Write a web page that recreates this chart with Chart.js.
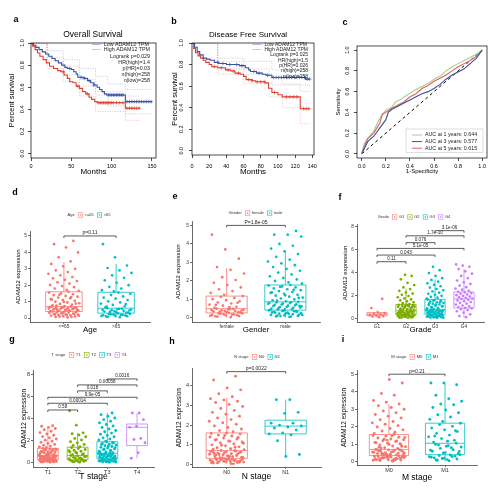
<!DOCTYPE html>
<html>
<head>
<meta charset="utf-8">
<script src="https://cdn.jsdelivr.net/npm/chart.js@4.4.1/dist/chart.umd.min.js"></script>
<style>
  body { margin: 0; background: #fff; }
  #fig { position: relative; width: 496px; height: 500px; overflow: hidden; background: #fff; }
  #fig canvas { position: absolute; }
</style>
</head>
<body>
<div id="fig">
  <canvas id="pa" width="165" height="180" style="left:0;top:0"></canvas>
  <canvas id="pb" width="165" height="180" style="left:165px;top:0"></canvas>
  <canvas id="pc" width="166" height="180" style="left:330px;top:0"></canvas>
  <canvas id="pd" width="165" height="158" style="left:0;top:180px"></canvas>
  <canvas id="pe" width="165" height="158" style="left:165px;top:180px"></canvas>
  <canvas id="pf" width="166" height="158" style="left:330px;top:180px"></canvas>
  <canvas id="pg" width="165" height="165" style="left:0;top:335px"></canvas>
  <canvas id="ph" width="165" height="165" style="left:165px;top:335px"></canvas>
  <canvas id="pi" width="166" height="165" style="left:330px;top:335px"></canvas>
</div>
<script>
// ---- a: overall survival, [months, fraction]
const osLow = [[0,1],[3,0.98],[6,0.96],[10,0.94],[14,0.92],[18,0.9],[22,0.88],[26,0.86],[30,0.84],[34,0.82],[38,0.8],[42,0.78],[45,0.77],[50,0.76],[53,0.74],[56,0.72],[58,0.69],[66,0.68],[70,0.66],[74,0.64],[78,0.62],[82,0.6],[85,0.58],[88,0.56],[91,0.54],[94,0.53],[117,0.47],[150,0.47]];
const osHigh = [[0,1],[2,0.97],[5,0.94],[8,0.91],[11,0.88],[15,0.85],[19,0.82],[23,0.79],[28,0.77],[33,0.75],[37,0.74],[41,0.71],[45,0.68],[48,0.65],[52,0.64],[56,0.61],[60,0.59],[64,0.56],[68,0.54],[72,0.51],[75,0.49],[79,0.47],[82,0.46],[117,0.41],[135,0.41]];
const osLowUp = [[0,1],[20,0.93],[40,0.85],[60,0.77],[80,0.7],[95,0.63],[117,0.58],[150,0.58]];
const osLowLo = [[0,1],[20,0.84],[40,0.71],[60,0.61],[80,0.53],[95,0.43],[117,0.36],[150,0.36]];
const osHighUp = [[0,1],[20,0.87],[40,0.79],[60,0.67],[80,0.56],[117,0.52],[135,0.52]];
const osHighLo = [[0,1],[20,0.77],[40,0.65],[60,0.52],[80,0.38],[117,0.3],[135,0.3]];
const osLowCens = [48,62,66,72,78,96,98,100,102,104,106,108,110,112,114,119,122,125,128,131,134,137,140,143,146,149];
const osHighCens = [40,58,70,84,86,88,90,92,94,96,98,100,102,106,110,114,119,122,125,128,131,134];
const osText = ['Low ADAM12 TPM', 'High ADAM12 TPM', 'Logrank p=0.029', 'HR(high)=1.4', 'p(HR)=0.03', 'n(high)=258', 'n(low)=258'];

// ---- b: disease free survival
const dfsLow = [[0,1],[3,0.96],[6,0.92],[9,0.89],[13,0.86],[17,0.85],[21,0.84],[26,0.82],[31,0.81],[40,0.8],[55,0.79],[62,0.77],[66,0.75],[68,0.735],[75,0.72],[82,0.71],[86,0.7],[93,0.68],[132,0.665],[137,0.665]];
const dfsHigh = [[0,1],[2,0.95],[4,0.91],[7,0.88],[10,0.86],[13,0.84],[16,0.82],[20,0.8],[23,0.78],[30,0.77],[39,0.75],[45,0.74],[50,0.72],[56,0.71],[60,0.69],[63,0.66],[70,0.65],[74,0.64],[85,0.63],[89,0.58],[93,0.54],[100,0.52],[105,0.5],[126,0.39],[137,0.39]];
const dfsLowUp = [[0,1],[30,0.86],[60,0.83],[93,0.75],[137,0.74]];
const dfsLowLo = [[0,1],[30,0.76],[60,0.71],[93,0.61],[137,0.59]];
const dfsHighUp = [[0,1],[30,0.83],[60,0.76],[90,0.68],[105,0.62],[126,0.55],[137,0.55]];
const dfsHighLo = [[0,1],[30,0.71],[60,0.62],[90,0.5],[105,0.4],[126,0.25],[137,0.25]];
const dfsLowCens = [30,36,44,52,58,72,78,88,95,98,101,104,107,110,113,116,119,122,125,128,131,134,137];
const dfsHighCens = [26,34,42,48,54,66,70,76,80,84,96,110,114,118,122,130,133,136];
const dfsText = ['Low ADAM12 TPM', 'High ADAM12 TPM', 'Logrank p=0.025', 'HR(high)=1.5', 'p(HR)=0.026', 'n(high)=258', 'n(low)=258'];

// ---- c: time dependent ROC, [1-specificity, sensitivity]
const roc1 = [[0,0],[0.02,0.1],[0.05,0.15],[0.1,0.22],[0.13,0.3],[0.17,0.38],[0.2,0.42],[0.25,0.45],[0.28,0.5],[0.33,0.53],[0.38,0.57],[0.45,0.62],[0.5,0.65],[0.55,0.68],[0.6,0.72],[0.65,0.75],[0.7,0.8],[0.75,0.84],[0.8,0.87],[0.85,0.9],[0.9,0.93],[0.95,0.96],[1,1]];
const roc3 = [[0,0],[0.02,0.05],[0.05,0.12],[0.1,0.17],[0.15,0.25],[0.2,0.33],[0.22,0.4],[0.25,0.43],[0.3,0.46],[0.35,0.49],[0.4,0.52],[0.45,0.55],[0.5,0.58],[0.55,0.6],[0.6,0.63],[0.65,0.67],[0.7,0.72],[0.75,0.76],[0.8,0.79],[0.85,0.82],[0.9,0.87],[0.95,0.92],[1,1]];
const roc5 = [[0,0],[0.02,0.07],[0.05,0.15],[0.1,0.2],[0.15,0.3],[0.17,0.38],[0.2,0.4],[0.25,0.44],[0.3,0.47],[0.35,0.5],[0.4,0.55],[0.45,0.58],[0.5,0.63],[0.55,0.66],[0.6,0.7],[0.65,0.73],[0.7,0.76],[0.75,0.8],[0.8,0.84],[0.85,0.87],[0.9,0.9],[0.95,0.94],[1,1]];
const rocLabels = ['AUC at 1 years: 0.644', 'AUC at 3 years: 0.577', 'AUC at 5 years: 0.615'];

// ---- d..i: ADAM12 expression by clinical group; box stats are [lo, q1, median, q3, hi]
const ageCats = ['<=65', '>65'];
const ageLe65 = [0.04,0.07,0.1,0.12,0.15,0.17,0.19,0.21,0.23,0.25,0.27,0.29,0.31,0.33,0.35,0.37,0.38,0.4,0.06,0.09,0.14,0.18,0.22,0.26,0.3,
  0.42,0.44,0.46,0.48,0.5,0.52,0.54,0.56,0.58,0.6,0.62,0.64,0.66,0.68,0.7,0.43,0.47,0.51,0.55,0.59,0.63,0.67,0.45,0.53,0.61,
  0.73,0.78,0.82,0.86,0.9,0.95,1.0,1.05,1.1,1.15,1.2,1.25,1.3,1.35,1.4,1.45,1.5,1.55,1.6,0.76,0.88,0.98,1.12,1.28,1.42,
  1.65,1.72,1.8,1.88,1.95,2.02,2.1,2.18,2.25,2.33,2.42,2.5,2.6,2.7,2.8,2.9,3.0,3.15,3.3,3.45,3.7,4.0,4.3,4.5,4.7];
const ageGt65 = [0.05,0.08,0.11,0.14,0.17,0.2,0.23,0.26,0.29,0.1,0.16,0.22,0.13,0.19,0.25,
  0.32,0.36,0.4,0.44,0.48,0.52,0.56,0.6,0.34,0.42,0.5,0.58,0.38,0.46,0.54,
  0.65,0.72,0.8,0.88,0.95,1.02,1.1,1.18,1.25,1.32,1.4,1.48,1.55,0.7,0.85,
  1.62,1.7,1.8,1.9,2.0,2.15,2.3,2.45,2.6,2.75,2.9,3.05,3.2,3.7,4.5];
const ageBox = [[0.02,0.4,0.7,1.6,3.4],[0.02,0.3,0.6,1.57,3.3]];

const genderCats = ['female', 'male'];
const female = [0.04,0.07,0.1,0.13,0.16,0.19,0.22,0.25,0.27,0.09,0.15,0.2,0.12,0.18,0.24,
  0.29,0.32,0.35,0.38,0.41,0.44,0.47,0.5,0.31,0.37,0.43,0.49,0.34,0.4,0.46,
  0.55,0.6,0.66,0.72,0.78,0.84,0.9,0.96,1.02,1.08,1.14,1.18,0.58,0.7,0.82,
  1.25,1.35,1.45,1.55,1.65,1.78,1.9,2.05,2.2,2.4,2.6,2.75,3.2,3.7,4.5];
const male = [0.05,0.08,0.11,0.14,0.17,0.2,0.23,0.26,0.29,0.32,0.35,0.38,0.41,0.07,0.12,0.18,0.24,0.3,0.36,0.1,0.16,0.22,0.28,0.34,0.4,
  0.44,0.48,0.52,0.56,0.6,0.64,0.68,0.72,0.76,0.8,0.84,0.87,0.46,0.5,0.54,0.58,0.62,0.66,0.7,0.74,0.78,0.82,0.86,0.45,0.65,
  0.9,0.95,1.0,1.05,1.1,1.15,1.2,1.25,1.3,1.35,1.4,1.45,1.5,1.55,1.6,1.65,1.7,1.75,1.78,0.93,1.08,1.22,1.38,1.52,1.68,
  1.85,1.92,2.0,2.08,2.16,2.25,2.35,2.45,2.55,2.65,2.75,2.85,2.95,3.05,3.15,3.3,3.45,3.6,3.75,3.9,4.0,4.4,4.5,4.5,4.7];
const genderBox = [[0.02,0.27,0.5,1.18,2.7],[0.02,0.42,0.87,1.78,3.6]];

const gradeCats = ['G1', 'G2', 'G3', 'G4'];
const g1 = [0.1,0.15,0.2,0.25,0.3,0.35,0.4,0.45,0.5,0.9,1.7];
const g2 = [0.04,0.07,0.1,0.13,0.16,0.19,0.22,0.25,0.28,0.3,0.09,0.15,0.21,0.27,0.12,0.18,0.24,0.06,0.2,0.26,
  0.33,0.36,0.39,0.42,0.45,0.48,0.51,0.54,0.57,0.6,0.63,0.65,0.35,0.41,0.47,0.53,0.59,0.38,0.5,0.62,
  0.7,0.75,0.8,0.85,0.9,0.95,1.0,1.05,1.1,1.15,1.2,0.72,0.82,0.92,1.02,1.12,0.78,0.98,1.08,1.18,
  1.25,1.32,1.4,1.48,1.56,1.65,1.74,1.84,1.95,2.05,2.15,2.25,2.4,2.55,2.7,2.9,3.1,3.4,3.7,3.8];
const g3 = [0.04,0.07,0.1,0.13,0.16,0.19,0.22,0.25,0.28,0.31,0.34,0.09,0.15,0.21,0.27,0.33,0.12,0.18,0.24,0.3,0.06,0.2,
  0.37,0.4,0.43,0.46,0.49,0.52,0.55,0.58,0.61,0.64,0.67,0.7,0.73,0.75,0.39,0.45,0.51,0.57,0.63,0.69,0.42,0.54,0.66,
  0.8,0.86,0.92,0.98,1.04,1.1,1.16,1.22,1.28,1.34,1.4,1.46,1.52,1.58,1.64,0.83,0.95,1.07,1.19,1.31,1.43,1.55,
  1.72,1.8,1.88,1.96,2.05,2.14,2.24,2.34,2.45,2.56,2.68,2.8,2.92,3.05,3.2,3.35,3.5,3.7,3.95,4.2,4.5];
const g4 = [0.1,0.2,0.35,0.5,0.62,0.72,0.8,0.88,0.92,0.98,1.05,1.12,1.2,1.28,1.35,1.42,1.5,1.56,1.62,1.68,1.72,1.78,1.84,1.9,
  1.96,2.02,2.08,2.14,2.2,2.26,2.32,2.4,2.5,2.6,2.72,2.85,3.0,3.15,3.3,3.5,3.7,3.9,4.1,4.3,4.5,4.6,4.7];
const gradeBox = [[0.1,0.22,0.35,0.5,0.7],[0.02,0.3,0.65,1.2,2.6],[0.02,0.35,0.75,1.65,3.4],[0.05,0.9,1.7,2.3,4.3]];
const gradeP = [[0,1,4.94,'0.11'],[0,2,5.52,'0.043'],[0,3,6.1,'5.1e-05'],[1,2,6.6,'0.076'],[1,3,7.2,'1.7e-10'],[2,3,7.65,'3.1e-06']];

const tCats = ['T1', 'T2', 'T3', 'T4'];
const t1 = [0.04,0.07,0.1,0.13,0.16,0.19,0.22,0.25,0.28,0.3,0.09,0.15,0.21,0.27,0.12,0.18,0.24,0.06,0.2,0.26,0.11,0.17,
  0.33,0.36,0.39,0.42,0.45,0.48,0.51,0.54,0.57,0.6,0.63,0.65,0.35,0.41,0.47,0.53,0.59,0.38,0.5,0.62,0.44,0.56,
  0.7,0.75,0.8,0.85,0.9,0.95,1.0,1.05,1.1,1.15,1.2,1.25,1.3,0.72,0.82,0.92,1.02,1.12,1.22,0.78,0.98,1.18,
  1.36,1.42,1.5,1.58,1.66,1.75,1.84,1.94,2.04,2.14,2.25,2.36,2.48,2.6,2.72,2.85,2.98,3.1,3.2,3.3,3.35];
const t2 = [0.05,0.09,0.13,0.17,0.21,0.25,0.11,0.19,0.07,0.15,0.23,
  0.3,0.36,0.42,0.48,0.54,0.6,0.65,0.33,0.45,0.57,0.39,
  0.72,0.8,0.88,0.96,1.04,1.12,1.2,1.28,1.36,0.76,0.92,1.08,
  1.45,1.55,1.65,1.78,1.9,2.05,2.2,2.35,2.5,2.62,2.7,3.4,4.7];
const t3 = [0.04,0.07,0.1,0.13,0.16,0.19,0.22,0.25,0.28,0.31,0.34,0.09,0.15,0.21,0.27,0.33,0.12,0.18,0.24,0.3,0.06,0.2,
  0.38,0.42,0.46,0.5,0.54,0.58,0.62,0.66,0.7,0.74,0.78,0.82,0.85,0.4,0.48,0.56,0.64,0.72,0.8,0.44,0.6,0.76,
  0.9,0.97,1.04,1.11,1.18,1.25,1.32,1.39,1.46,1.53,1.6,1.67,1.74,1.81,1.88,0.94,1.08,1.22,1.36,1.5,1.64,1.78,
  1.95,2.05,2.15,2.25,2.35,2.46,2.57,2.68,2.8,2.92,3.05,3.18,3.32,3.46,3.6,3.75,3.9,4.05,4.2,4.35,4.5];
const t4 = [4.5,4.5,3.9,3.3,3.2,2.2,2.1,1.8,0.9,0.4];
const tBox = [[0.02,0.3,0.65,1.3,3.2],[0.02,0.25,0.65,1.4,2.7],[0.02,0.35,0.85,1.9,4.5],[0.4,1.55,3.2,3.5,4.5]];
const tP = [[0,1,4.77,'0.58'],[0,2,5.38,'0.00014'],[0,3,5.92,'9.9e-05'],[1,2,6.5,'0.018'],[1,3,7.04,'0.00058'],[2,3,7.58,'0.0016']];

const nCats = ['N0', 'N1'];
const n0 = [0.04,0.07,0.1,0.13,0.16,0.19,0.22,0.25,0.28,0.3,0.09,0.15,0.21,0.27,0.12,0.18,0.24,0.06,0.2,0.26,0.11,0.17,0.23,0.14,0.29,0.08,0.02,
  0.33,0.36,0.39,0.42,0.45,0.48,0.51,0.54,0.57,0.6,0.63,0.66,0.69,0.7,0.35,0.41,0.47,0.53,0.59,0.65,0.38,0.5,0.62,0.44,0.56,0.68,0.32,
  0.74,0.79,0.84,0.89,0.94,0.99,1.04,1.09,1.14,1.19,1.24,1.29,1.34,1.39,1.44,1.49,1.54,1.6,0.77,0.87,0.97,1.07,1.17,1.27,1.37,1.47,1.57,
  1.66,1.72,1.8,1.88,1.96,2.04,2.12,2.2,2.28,2.36,2.45,2.55,2.65,2.75,2.85,2.95,3.05,3.15,3.22,3.28,3.35,3.45,3.6,3.8,3.9,4.3,4.5];
const n1 = [3.3,3.3,2.65,2.6,2.1,2.1,2.0,1.95,1.9,1.85,1.75,1.6,1.55,1.5,1.2,0.5,0.4];
const nBox = [[0.02,0.3,0.7,1.6,3.4],[0.4,1.55,1.95,2.25,3.3]];

const mCats = ['M0', 'M1'];
const m0 = [0.03,0.06,0.09,0.12,0.15,0.18,0.21,0.24,0.27,0.3,0.33,0.35,0.08,0.14,0.2,0.26,0.32,0.11,0.17,0.23,0.29,0.05,0.13,0.19,0.25,0.31,0.1,
  0.37,0.4,0.43,0.46,0.49,0.52,0.55,0.58,0.61,0.64,0.67,0.7,0.38,0.44,0.5,0.56,0.62,0.68,0.41,0.53,0.65,0.47,0.59,0.36,0.69,
  0.75,0.8,0.85,0.9,0.95,1.0,1.05,1.1,1.15,1.2,1.25,1.3,1.35,1.4,1.45,1.5,1.55,0.78,0.88,0.98,1.08,1.18,1.28,1.38,1.48,0.83,1.03,1.23,
  1.62,1.68,1.75,1.82,1.9,1.98,2.06,2.14,2.22,2.3,2.4,2.5,2.6,2.7,2.8,2.9,3.0,3.1,3.2,3.3,3.4,3.5,3.8,3.9,4.5,4.7];
const m1 = [0.05,0.1,0.15,0.2,0.25,0.3,0.35,0.4,0.12,0.22,0.32,0.18,0.28,0.38,0.08,
  0.45,0.52,0.6,0.68,0.76,0.84,0.92,1.0,1.05,0.5,0.65,0.8,0.95,0.58,0.88,
  1.12,1.22,1.32,1.42,1.52,1.62,1.72,1.82,1.92,2.02,2.12,2.2,1.17,1.47,1.77,
  2.3,2.42,2.55,2.68,2.8,2.95,3.1,3.25,3.3,3.45,3.6,3.8,4.4,4.5,4.5];
const mBox = [[0.02,0.35,0.7,1.55,3.3],[0.03,0.4,1.05,2.2,4.5]];

// ---- styling
const FONT = "'Liberation Sans', Arial, sans-serif";
const RED = '#F8766D', GREEN = '#7CAE00', TEAL = '#00BFC4', PURPLE = '#C77CFF';
const KM_BLUE = '#3a52a3', KM_RED = '#e0412f', CI_BLUE = '#9fb0d9', CI_RED = '#f2a49c';
const ROC_COLORS = ['#a3d08f', '#3c4f9a', '#e0605a'];

Chart.defaults.font.family = FONT;
Chart.defaults.color = '#000';
Chart.defaults.animation = false;
Chart.defaults.plugins.legend.display = false;
Chart.defaults.plugins.tooltip.enabled = false;

const pts = a => a.map(([x, y]) => ({ x, y }));
const survAt = (curve, t) => curve.filter(p => p[0] <= t).pop()[1];
// spread points sideways around their group centre (golden ratio sequence)
const jitter = (vals, g, spread) => vals.map((v, i) => ({ x: g + (((i + 1) * 0.618034) % 1 - 0.5) * spread, y: v }));

// padding + axis sizes so that the plot area lands where it does in the figure
function frame(W, H, box, yTitleX, yLH, xTitleY, xLH) {
  const [L, T, R, B] = box;
  const pl = yTitleX - yLH / 2;
  const pb = H - xTitleY - xLH / 2;
  return { padding: { left: pl, top: T, right: W - R, bottom: pb }, yW: L - pl, xH: H - pb - B };
}

function decor(letter, lx, ly, title, tx, ty, tfs) {
  return {
    id: 'decor',
    afterDraw(chart) {
      const ctx = chart.ctx;
      ctx.save();
      ctx.fillStyle = '#000';
      ctx.textBaseline = 'middle';
      ctx.textAlign = 'center';
      ctx.font = 'bold 9px ' + FONT;
      ctx.fillText(letter, lx, ly);
      if (title) {
        ctx.font = tfs + 'px ' + FONT;
        ctx.fillText(title, tx, ty);
      }
      ctx.restore();
    }
  };
}

// R style panel: full box and vertical y tick labels
function rFrame(labelX, fs) {
  return {
    id: 'rFrame',
    afterDraw(chart) {
      const { ctx, chartArea: a, scales: { y } } = chart;
      ctx.save();
      ctx.strokeStyle = '#000';
      ctx.lineWidth = 0.7;
      ctx.strokeRect(a.left, a.top, a.right - a.left, a.bottom - a.top);
      ctx.fillStyle = '#000';
      ctx.font = fs + 'px ' + FONT;
      ctx.textAlign = 'center';
      ctx.textBaseline = 'middle';
      y.ticks.forEach(t => {
        ctx.save();
        ctx.translate(labelX, y.getPixelForValue(t.value));
        ctx.rotate(-Math.PI / 2);
        ctx.fillText(t.value.toFixed(1), 0, 0);
        ctx.restore();
      });
      ctx.restore();
    }
  };
}

function survLegend(right, ys, texts, fs) {
  return {
    id: 'survLegend',
    afterDraw(chart) {
      const ctx = chart.ctx;
      ctx.save();
      ctx.font = fs + 'px ' + FONT;
      ctx.textBaseline = 'middle';
      ctx.fillStyle = '#222';
      const w = Math.max(ctx.measureText(texts[0]).width, ctx.measureText(texts[1]).width);
      [CI_BLUE, CI_RED].forEach((c, i) => {
        ctx.strokeStyle = c;
        ctx.lineWidth = 0.8;
        ctx.beginPath();
        ctx.moveTo(right - w - 12, ys[i]);
        ctx.lineTo(right - w - 3, ys[i]);
        ctx.stroke();
        ctx.textAlign = 'left';
        ctx.fillText(texts[i], right - w, ys[i]);
      });
      ctx.textAlign = 'right';
      texts.slice(2).forEach((t, i) => ctx.fillText(t, right, ys[i + 2]));
      ctx.restore();
    }
  };
}

function survChart(id, d) {
  const f = frame(165, 180, d.box, d.yTitleX, 7.5 * 1.2, 172, 8 * 1.2);
  const step = (arr, color, extra) => Object.assign({ data: pts(arr), borderColor: color, borderWidth: 1.1, pointRadius: 0, stepped: true, fill: false }, extra);
  const ci = (arr, color) => step(arr, color, { borderWidth: 0.7, borderDash: [1, 1.5] });
  const cens = (months, curve, color) => ({
    data: months.map(m => ({ x: m, y: survAt(curve, m) })), showLine: false,
    pointStyle: 'cross', pointRadius: 1.8, pointBorderWidth: 0.7, borderColor: color
  });
  const tickGrid = { drawOnChartArea: false, tickLength: 3, color: '#000', lineWidth: 0.7 };
  new Chart(document.getElementById(id), {
    type: 'line',
    data: {
      datasets: [
        cens(d.lowC, d.low, KM_BLUE), cens(d.highC, d.high, KM_RED),
        step(d.low, KM_BLUE), step(d.high, KM_RED),
        ci(d.lowUp, CI_BLUE), ci(d.lowLo, CI_BLUE), ci(d.highUp, CI_RED), ci(d.highLo, CI_RED)
      ]
    },
    options: {
      responsive: false,
      devicePixelRatio: 1,
      layout: { padding: f.padding },
      scales: {
        x: {
          type: 'linear', min: 0, max: d.xMax,
          afterBuildTicks: s => { s.ticks = d.xTicks.map(v => ({ value: v })); },
          afterFit: s => { s.height = f.xH; },
          ticks: { font: { size: 5.5 }, padding: d.xPad, maxRotation: 0, autoSkip: false },
          grid: tickGrid,
          border: { display: false },
          title: { display: true, text: 'Months', font: { size: 8 }, padding: 0 }
        },
        y: {
          min: -0.04, max: 1,
          afterBuildTicks: s => { s.ticks = [0, 0.2, 0.4, 0.6, 0.8, 1].map(v => ({ value: v })); },
          afterFit: s => { s.width = f.yW; },
          ticks: { display: false },
          grid: tickGrid,
          border: { display: false },
          title: { display: true, text: 'Percent survival', font: { size: 7.5 }, padding: 0 }
        }
      }
    },
    plugins: [rFrame(d.yLabelX, 5.5), survLegend(d.legRight, d.legY, d.text, d.legFont), decor(d.letter, d.lx, d.ly, d.title, d.tx, 35, d.tfs)]
  });
}

survChart('pa', {
  low: osLow, high: osHigh, lowUp: osLowUp, lowLo: osLowLo, highUp: osHighUp, highLo: osHighLo,
  lowC: osLowCens, highC: osHighCens, text: osText,
  box: [31, 43, 156, 158], xMax: 155, xTicks: [0, 50, 100, 150], xPad: 2, yTitleX: 12, yLabelX: 22,
  legRight: 150, legY: [44.5, 49.5, 57, 63, 69, 75, 81], legFont: 5.3,
  letter: 'a', lx: 16, ly: 20, title: 'Overall Survival', tx: 93, tfs: 8.5
});
survChart('pb', {
  low: dfsLow, high: dfsHigh, lowUp: dfsLowUp, lowLo: dfsLowLo, highUp: dfsHighUp, highLo: dfsHighLo,
  lowC: dfsLowCens, highC: dfsHighCens, text: dfsText,
  box: [27, 43, 149, 155], xMax: 142, xTicks: [0, 20, 40, 60, 80, 100, 120, 140], xPad: 5, yTitleX: 10, yLabelX: 16.5,
  legRight: 143, legY: [44.5, 49.5, 55, 60.5, 66, 71, 76.5], legFont: 5,
  letter: 'b', lx: 9, ly: 22, title: 'Disease Free Survival', tx: 83, tfs: 8
});

// ---- c: ROC
(function () {
  const f = frame(166, 180, [27, 46, 157, 158], 8, 6 * 1.2, 171, 6 * 1.2);
  const tickGrid = { drawOnChartArea: false, tickLength: 3, color: '#000', lineWidth: 0.7 };
  const rocTicks = [0, 0.2, 0.4, 0.6, 0.8, 1];
  const rocLegend = {
    id: 'rocLegend',
    afterDraw(chart) {
      const ctx = chart.ctx;
      ctx.save();
      ctx.strokeStyle = '#c8c8c8';
      ctx.lineWidth = 0.6;
      ctx.strokeRect(76, 129, 77, 23.5);
      ctx.font = '5.3px ' + FONT;
      ctx.textBaseline = 'middle';
      ctx.textAlign = 'left';
      rocLabels.forEach((t, i) => {
        const y = 135 + i * 6.6;
        ctx.strokeStyle = ROC_COLORS[i];
        ctx.lineWidth = 1;
        ctx.beginPath();
        ctx.moveTo(82, y);
        ctx.lineTo(92, y);
        ctx.stroke();
        ctx.fillStyle = '#222';
        ctx.fillText(t, 95, y);
      });
      ctx.restore();
    }
  };
  const curve = (arr, c) => ({ data: pts(arr), borderColor: c, borderWidth: 1.1, pointRadius: 0, fill: false });
  new Chart(document.getElementById('pc'), {
    type: 'line',
    data: {
      datasets: [
        curve(roc3, ROC_COLORS[1]), curve(roc5, ROC_COLORS[2]), curve(roc1, ROC_COLORS[0]),
        { data: pts([[0, 0], [1, 1]]), borderColor: '#000', borderWidth: 1, borderDash: [3, 3], pointRadius: 0 }
      ]
    },
    options: {
      responsive: false,
      devicePixelRatio: 1,
      layout: { padding: f.padding },
      scales: {
        x: {
          type: 'linear', min: -0.04, max: 1.04,
          afterBuildTicks: s => { s.ticks = rocTicks.map(v => ({ value: v })); },
          afterFit: s => { s.height = f.xH; },
          ticks: { font: { size: 5.5 }, padding: 2, maxRotation: 0, autoSkip: false, callback: v => v.toFixed(1) },
          grid: tickGrid,
          border: { display: false },
          title: { display: true, text: '1-Specificity', font: { size: 6 }, padding: 0 }
        },
        y: {
          min: -0.04, max: 1.04,
          afterBuildTicks: s => { s.ticks = rocTicks.map(v => ({ value: v })); },
          afterFit: s => { s.width = f.yW; },
          ticks: { display: false },
          grid: tickGrid,
          border: { display: false },
          title: { display: true, text: 'Sensitivity', font: { size: 6 }, padding: 0 }
        }
      }
    },
    plugins: [rFrame(17, 5.5), rocLegend, decor('c', 15, 23)]
  });
})();

// ---- box plots with jittered points
function boxes(stats, colors, width) {
  return {
    id: 'boxes',
    beforeDatasetsDraw(chart) {
      const { ctx, scales: { x, y } } = chart;
      const p = v => y.getPixelForValue(v);
      ctx.save();
      ctx.lineWidth = 0.8;
      stats.forEach(([lo, q1, med, q3, hi], i) => {
        const l = x.getPixelForValue(i - width / 2), r = x.getPixelForValue(i + width / 2), m = x.getPixelForValue(i);
        ctx.strokeStyle = colors[i];
        ctx.beginPath();
        ctx.moveTo(m, p(hi)); ctx.lineTo(m, p(q3));
        ctx.moveTo(m, p(q1)); ctx.lineTo(m, p(lo));
        ctx.moveTo(l, p(med)); ctx.lineTo(r, p(med));
        ctx.rect(l, p(q3), r - l, p(q1) - p(q3));
        ctx.stroke();
      });
      ctx.restore();
    }
  };
}

function brackets(items, fs) {
  return {
    id: 'brackets',
    afterDatasetsDraw(chart) {
      const { ctx, scales: { x, y } } = chart;
      ctx.save();
      ctx.strokeStyle = '#333';
      ctx.fillStyle = '#222';
      ctx.lineWidth = 0.8;
      ctx.font = fs + 'px ' + FONT;
      ctx.textAlign = 'center';
      ctx.textBaseline = 'bottom';
      items.forEach(([a, b, v, label]) => {
        const x0 = x.getPixelForValue(a), x1 = x.getPixelForValue(b), yy = y.getPixelForValue(v);
        ctx.beginPath();
        ctx.moveTo(x0, yy + 2); ctx.lineTo(x0, yy); ctx.lineTo(x1, yy); ctx.lineTo(x1, yy + 2);
        ctx.stroke();
        ctx.fillText(label, (x0 + x1) / 2, yy - 0.5);
      });
      ctx.restore();
    }
  };
}

function ggLegend(title, labels, colors, cx, cy, fs) {
  return {
    id: 'ggLegend',
    afterDraw(chart) {
      const ctx = chart.ctx;
      ctx.save();
      ctx.font = fs + 'px ' + FONT;
      ctx.textBaseline = 'middle';
      ctx.textAlign = 'left';
      const k = fs * 1.1, gap = fs * 0.9;
      const tw = ctx.measureText(title).width;
      const ws = labels.map(l => ctx.measureText(l).width);
      const total = tw + ws.reduce((s, w) => s + gap + k + 2 + w, 0);
      let px = cx - total / 2;
      ctx.fillStyle = '#333';
      ctx.fillText(title, px, cy);
      px += tw;
      labels.forEach((l, i) => {
        px += gap;
        ctx.strokeStyle = colors[i];
        ctx.lineWidth = 0.6;
        ctx.strokeRect(px, cy - k / 2, k, k);
        ctx.fillStyle = colors[i];
        ctx.beginPath();
        ctx.arc(px + k / 2, cy, 0.8, 0, 2 * Math.PI);
        ctx.fill();
        px += k + 2;
        ctx.fillStyle = '#333';
        ctx.fillText(l, px, cy);
        px += ws[i];
      });
      ctx.restore();
    }
  };
}

function boxChart(id, c) {
  const f = frame(c.W, c.H, c.box, c.yTitleX, c.yFont * 1.2, c.xTitleY, c.xFont * 1.2);
  const axisGrid = { drawOnChartArea: false, tickLength: 2, color: '#444', lineWidth: 0.8 };
  const axisBorder = { color: '#444', width: 0.8 };
  new Chart(document.getElementById(id), {
    type: 'scatter',
    data: {
      datasets: c.groups.map((vals, i) => ({
        data: jitter(vals, i, 0.6), backgroundColor: c.colors[i], borderWidth: 0, pointRadius: c.r
      }))
    },
    options: {
      responsive: false,
      devicePixelRatio: 1,
      layout: { padding: f.padding },
      scales: {
        x: {
          type: 'linear', min: c.xMin, max: c.xMax,
          afterBuildTicks: s => { s.ticks = c.cats.map((n, i) => ({ value: i })); },
          afterFit: s => { s.height = f.xH; },
          ticks: { callback: v => c.cats[Math.round(v)], font: { size: c.tick }, color: '#333', padding: 0, maxRotation: 0, autoSkip: false },
          grid: axisGrid,
          border: axisBorder,
          title: { display: true, text: c.xTitle, font: { size: c.xFont }, padding: 0 }
        },
        y: {
          min: c.yMin, max: c.yMax,
          afterBuildTicks: s => { s.ticks = c.yTicks.map(v => ({ value: v })); },
          afterFit: s => { s.width = f.yW; },
          ticks: { font: { size: c.tick }, color: '#333', padding: 1 },
          grid: axisGrid,
          border: axisBorder,
          title: { display: true, text: 'ADAM12 expression', font: { size: c.yFont }, padding: 0 }
        }
      }
    },
    plugins: [
      boxes(c.stats, c.colors, 0.7),
      brackets(c.pvals, c.pFont),
      ggLegend(c.legTitle, c.cats, c.colors, c.legX, c.legY, c.legFont),
      decor(c.letter, c.lx, c.ly)
    ]
  });
}

const row2 = { W: 165, H: 158, xTitleY: 150, xFont: 8, yFont: 6, tick: 4.8, r: 1.35, legFont: 4, pFont: 5 };
const row3 = { W: 165, H: 165, xFont: 8.5, yFont: 6.5, tick: 5.5, r: 1.45, legFont: 4.2, pFont: 5 };

boxChart('pd', Object.assign({}, row2, {
  box: [30, 51.7, 150, 142], yTitleX: 18, xTitle: 'Age', cats: ageCats,
  groups: [ageLe65, ageGt65], stats: ageBox, colors: [RED, TEAL],
  xMin: -0.65, xMax: 1.65, yMin: -0.24, yMax: 5.26, yTicks: [0, 1, 2, 3, 4, 5],
  pvals: [[0, 1, 5.0, 'p=0.11']], legTitle: 'Age', legX: 89, legY: 35, letter: 'd', lx: 15, ly: 13
}));
boxChart('pe', Object.assign({}, row2, {
  box: [27, 41.7, 155, 142], yTitleX: 13, xTitle: 'Gender', cats: genderCats,
  groups: [female, male], stats: genderBox, colors: [RED, TEAL],
  xMin: -0.59, xMax: 1.59, yMin: -0.22, yMax: 5.2, yTicks: [0, 1, 2, 3, 4, 5],
  pvals: [[0, 1, 5.0, 'P=1.8e-05']], legTitle: 'Gender', legX: 90.5, legY: 33, letter: 'e', lx: 10, ly: 17
}));
boxChart('pf', Object.assign({}, row2, {
  W: 166, box: [27, 44, 154, 142], yTitleX: 15, xTitle: 'Grade', cats: gradeCats,
  groups: [g1, g2, g3, g4], stats: gradeBox, colors: [RED, GREEN, TEAL, PURPLE],
  xMin: -0.69, xMax: 3.69, yMin: -0.32, yMax: 8.23, yTicks: [0, 2, 4, 6, 8],
  pvals: gradeP, pFont: 4.6, legTitle: 'Grade', legX: 84, legY: 37, letter: 'f', lx: 10, ly: 18
}));
boxChart('pg', Object.assign({}, row3, {
  box: [33, 35, 154, 132], yTitleX: 24, xTitleY: 141.7, xTitle: 'T stage', cats: tCats,
  groups: [t1, t2, t3, t4], stats: tBox, colors: [RED, GREEN, TEAL, PURPLE],
  xMin: -0.5, xMax: 3.57, yMin: -0.39, yMax: 8.39, yTicks: [0, 2, 4, 6, 8],
  pvals: tP, pFont: 4.6, legTitle: 'T stage', legX: 89, legY: 20, letter: 'g', lx: 12, ly: 5
}));
boxChart('ph', Object.assign({}, row3, {
  box: [27, 33.3, 156, 132], yTitleX: 14, xTitleY: 141.7, xTitle: 'N stage', cats: nCats,
  groups: [n0, n1], stats: nBox, colors: [RED, TEAL],
  xMin: -0.59, xMax: 1.6, yMin: -0.14, yMax: 4.9, yTicks: [0, 1, 2, 3, 4],
  pvals: [[0, 1, 4.73, 'p=0.0022']], legTitle: 'N stage', legX: 92, legY: 22, letter: 'h', lx: 7, ly: 7
}));
boxChart('pi', Object.assign({}, row3, {
  W: 166, box: [27, 35, 147, 130], yTitleX: 14, xTitleY: 142.7, xTitle: 'M stage', cats: mCats,
  groups: [m0, m1], stats: mBox, colors: [RED, TEAL],
  xMin: -0.57, xMax: 1.57, yMin: -0.19, yMax: 5.24, yTicks: [0, 1, 2, 3, 4, 5],
  pvals: [[0, 1, 5.0, 'p=0.21']], legTitle: 'M stage', legX: 85, legY: 22, letter: 'i', lx: 13, ly: 5
}));
</script>
</body>
</html>
